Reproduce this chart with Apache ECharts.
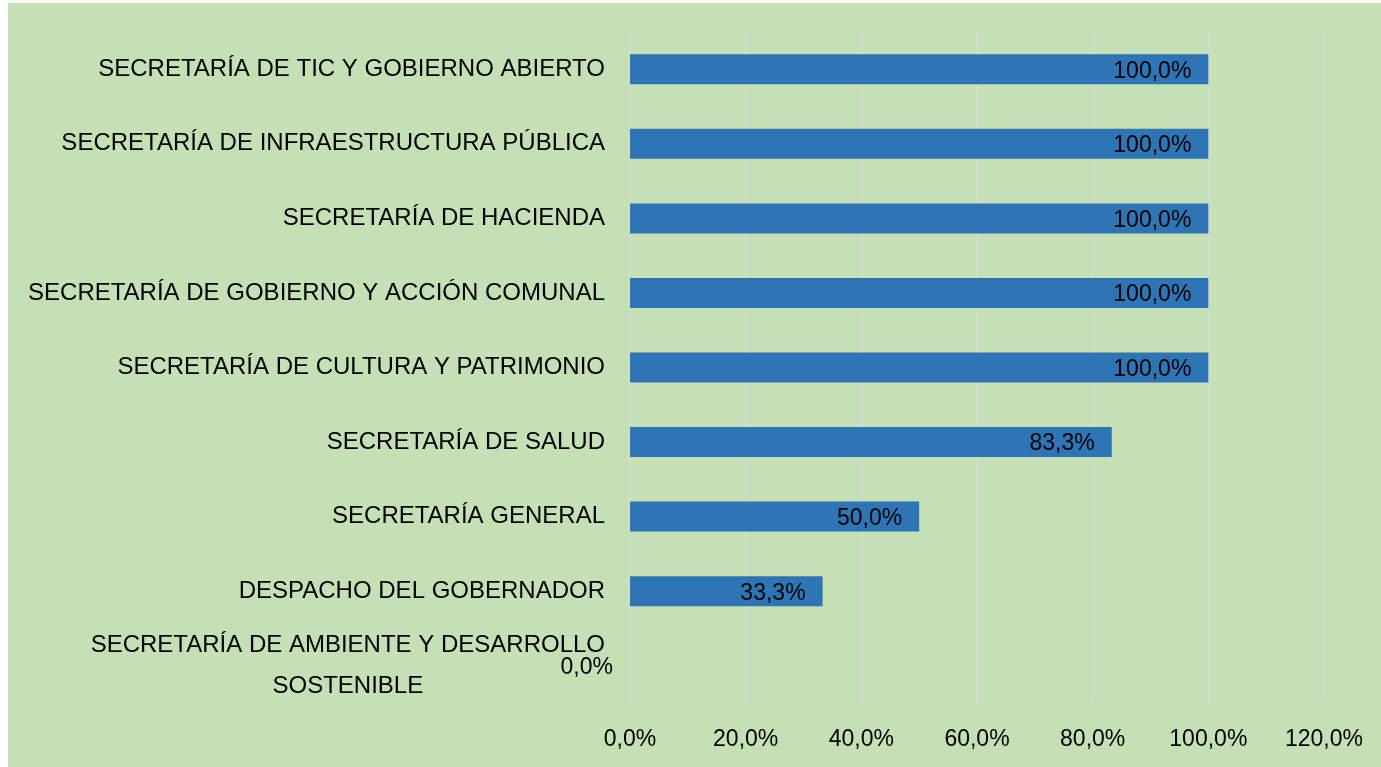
<!DOCTYPE html>
<html>
<head>
<meta charset="utf-8">
<script src="https://cdn.jsdelivr.net/npm/echarts@6/dist/echarts.min.js"></script>
<style>
    html, body { margin: 0; padding: 0; background: #ffffff; }
    #main { position: absolute; left: 8px; top: 3px; width: 1373px; height: 764px; }
</style>
</head>
<body>
<div id="main"></div>
<script>
var categorias = [
    'SECRETARÍA DE TIC Y GOBIERNO ABIERTO',
    'SECRETARÍA DE INFRAESTRUCTURA PÚBLICA',
    'SECRETARÍA DE HACIENDA',
    'SECRETARÍA DE GOBIERNO Y ACCIÓN COMUNAL',
    'SECRETARÍA DE CULTURA Y PATRIMONIO',
    'SECRETARÍA DE SALUD',
    'SECRETARÍA GENERAL',
    'DESPACHO DEL GOBERNADOR',
    'SECRETARÍA DE AMBIENTE Y DESARROLLO\nSOSTENIBLE'
];
var porcentajes = [100, 100, 100, 100, 100, 83.3, 50, 33.3, 0];
var ejeMin = 0, ejeMax = 120, ejePaso = 20;

var fuente = '"Liberation Sans", Arial, sans-serif';
function pct(v) {
    return v.toFixed(1).replace('.', ',') + '%';
}

var myChart = echarts.init(document.getElementById('main'));
var option = {
    backgroundColor: '#c5e0b4',
    animation: false,
    grid: {
        left: 622,
        right: 57,
        top: 29,
        bottom: 64
    },
    xAxis: {
        type: 'value',
        min: ejeMin,
        max: ejeMax,
        interval: ejePaso,
        axisLine: { show: false },
        axisTick: { show: false },
        splitLine: { lineStyle: { color: '#d9d9d9', width: 1.5 } },
        axisLabel: {
            margin: 25,
            fontSize: 23,
            color: '#000',
            fontFamily: fuente,
            formatter: function (v) { return pct(v); }
        }
    },
    yAxis: {
        type: 'category',
        inverse: true,
        data: categorias,
        axisLine: { show: false },
        axisTick: { show: false },
        axisLabel: {
            margin: 25,
            formatter: function (v) {
                return v.split('\n').map(function (s) { return '{c|' + s + '}'; }).join('\n');
            },
            rich: {
                c: {
                    fontSize: 24,
                    lineHeight: 41,
                    align: 'center',
                    color: '#000',
                    fontFamily: fuente
                }
            }
        }
    },
    series: [{
        type: 'bar',
        data: porcentajes,
        barWidth: 30,
        itemStyle: { color: '#2e75b6' },
        label: {
            show: true,
            position: 'insideRight',
            distance: 17,
            offset: [0, 2],
            fontSize: 23,
            color: '#000',
            fontFamily: fuente,
            formatter: function (p) { return pct(p.value); }
        }
    }]
};
myChart.setOption(option);
</script>
</body>
</html>
